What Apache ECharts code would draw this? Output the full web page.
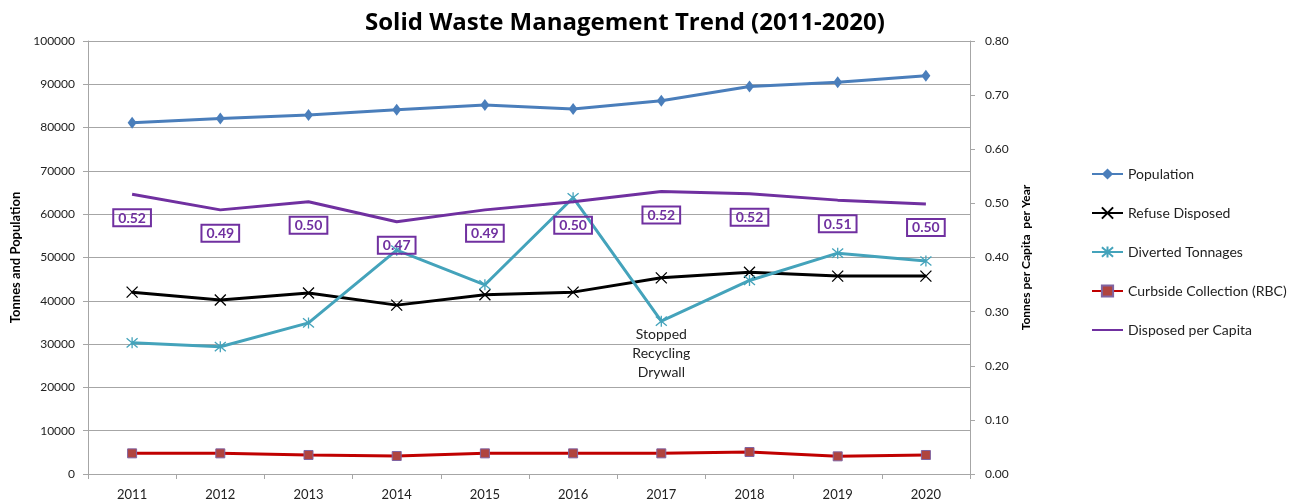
<!DOCTYPE html>
<html>
<head>
<meta charset="utf-8">
<script src="https://cdn.jsdelivr.net/npm/echarts@6/dist/echarts.min.js"></script>
<style>
  html, body { margin: 0; padding: 0; background: #fff; }
  #main { width: 1297px; height: 503px; }
</style>
</head>
<body>
<div id="main"></div>
<script>
var myChart = echarts.init(document.getElementById('main'));

var years = ['2011', '2012', '2013', '2014', '2015', '2016', '2017', '2018', '2019', '2020'];
var population = [81100, 82100, 82900, 84100, 85200, 84300, 86200, 89500, 90500, 92000];
var refuseDisposed = [42000, 40200, 41800, 39000, 41400, 42000, 45300, 46600, 45700, 45700];
var divertedTonnages = [30300, 29400, 34900, 51700, 43700, 63800, 35300, 44700, 51000, 49200];
var curbside = [4770, 4770, 4390, 4160, 4770, 4770, 4770, 5080, 4080, 4390];
var disposedPerCapita = [0.517, 0.488, 0.503, 0.466, 0.488, 0.503, 0.522, 0.518, 0.506, 0.499];
var noteYear = '2017';
var noteText = 'Stopped\nRecycling\nDrywall';

var font = 'Lato, "Liberation Sans", sans-serif';
var gridColor = '#a6a6a6';

// X and asterisk markers like the Excel ones
var crossPath = 'path://M0,0L10,10M10,0L0,10';
var starPath = 'path://M0,0L10,10M10,0L0,10M5,-1L5,11';

option = {
    backgroundColor: '#fff',
    textStyle: { fontFamily: font },
    title: {
        text: 'Solid Waste Management Trend (2011-2020)',
        left: 360,
        top: 6,
        textStyle: { fontSize: 24, fontWeight: 'bold', color: '#000', fontFamily: '"Open Sans", sans-serif' }
    },
    legend: {
        orient: 'vertical',
        left: 1086,
        top: 162,
        itemGap: 25,
        itemWidth: 31,
        itemHeight: 14,
        textStyle: { fontSize: 14, color: '#222', fontFamily: font },
        data: ['Population', 'Refuse Disposed', 'Diverted Tonnages', 'Curbside Collection (RBC)', 'Disposed per Capita']
    },
    grid: { left: 88, right: 327, top: 41, bottom: 29, containLabel: false },
    xAxis: {
        type: 'category',
        data: years,
        boundaryGap: true,
        axisLine: { lineStyle: { color: gridColor, width: 1 } },
        axisTick: { show: true, length: 5, lineStyle: { color: gridColor } },
        axisLabel: { color: '#222', fontSize: 13, margin: 14, fontFamily: font }
    },
    yAxis: [
        {
            type: 'value',
            min: 0,
            max: 100000,
            interval: 10000,
            name: 'Tonnes and Population',
            nameLocation: 'middle',
            nameGap: 66,
            nameTextStyle: { fontSize: 13, fontWeight: 'bold', color: '#000', fontFamily: font },
            axisLine: { show: true, lineStyle: { color: gridColor } },
            axisTick: { show: true, length: 5, lineStyle: { color: gridColor } },
            axisLabel: {
                color: '#222', fontSize: 12, margin: 13, fontFamily: font,
                formatter: function (v) { return String(v); }
            },
            splitLine: { show: true, lineStyle: { color: gridColor, width: 1 } }
        },
        {
            type: 'value',
            min: 0,
            max: 0.8,
            interval: 0.1,
            position: 'right',
            name: 'Tonnes per Capita  per Year',
            nameLocation: 'middle',
            nameGap: 50,
            nameRotate: 90,
            nameTextStyle: { fontSize: 12, fontWeight: 'bold', color: '#000', fontFamily: font },
            axisLine: { show: true, lineStyle: { color: gridColor } },
            axisTick: { show: true, length: 5, lineStyle: { color: gridColor } },
            axisLabel: {
                color: '#222', fontSize: 12, margin: 15, fontFamily: font,
                formatter: function (v) { return v.toFixed(2); }
            },
            splitLine: { show: false }
        }
    ],
    series: [
        {
            name: 'Population',
            type: 'line',
            data: population,
            symbol: 'diamond',
            symbolSize: [9, 12],
            lineStyle: { color: '#4a7ebb', width: 3 },
            itemStyle: { color: '#4a7ebb' },
            z: 3
        },
        {
            name: 'Refuse Disposed',
            type: 'line',
            data: refuseDisposed,
            symbol: crossPath,
            symbolSize: 11,
            lineStyle: { color: '#000', width: 3 },
            itemStyle: { color: '#000', borderColor: '#000', borderWidth: 1.3 },
            z: 3
        },
        {
            name: 'Diverted Tonnages',
            type: 'line',
            data: divertedTonnages.map(function (v, i) {
                if (years[i] === noteYear) {
                    return {
                        value: v,
                        label: {
                            show: true,
                            formatter: noteText,
                            position: 'bottom',
                            distance: -2,
                            color: '#222',
                            fontSize: 14,
                            lineHeight: 19,
                            fontFamily: font
                        }
                    };
                }
                return v;
            }),
            symbol: starPath,
            symbolSize: 11,
            lineStyle: { color: '#44a3bb', width: 3 },
            itemStyle: { color: '#44a3bb', borderColor: '#44a3bb', borderWidth: 1.3 },
            z: 3
        },
        {
            name: 'Curbside Collection (RBC)',
            type: 'line',
            data: curbside,
            symbol: 'rect',
            symbolSize: 9,
            lineStyle: { color: '#c00000', width: 3 },
            itemStyle: { color: '#b0443f', borderColor: '#8064a2', borderWidth: 1 },
            z: 3
        },
        {
            name: 'Disposed per Capita',
            type: 'line',
            yAxisIndex: 1,
            data: disposedPerCapita,
            symbol: 'circle',
            symbolSize: 4,
            showAllSymbol: true,
            lineStyle: { color: '#7030a0', width: 3 },
            itemStyle: { color: '#7030a0', opacity: 0 },
            label: {
                show: true,
                position: 'bottom',
                distance: 13,
                opacity: 1,
                formatter: function (p) { return p.value.toFixed(2); },
                color: '#7030a0',
                fontSize: 14,
                fontWeight: 'bold',
                fontFamily: font,
                borderColor: '#7030a0',
                borderWidth: 2,
                padding: [2, 5, 1, 5]
            },
            z: 4
        }
    ]
};

myChart.setOption(option);
</script>
</body>
</html>
